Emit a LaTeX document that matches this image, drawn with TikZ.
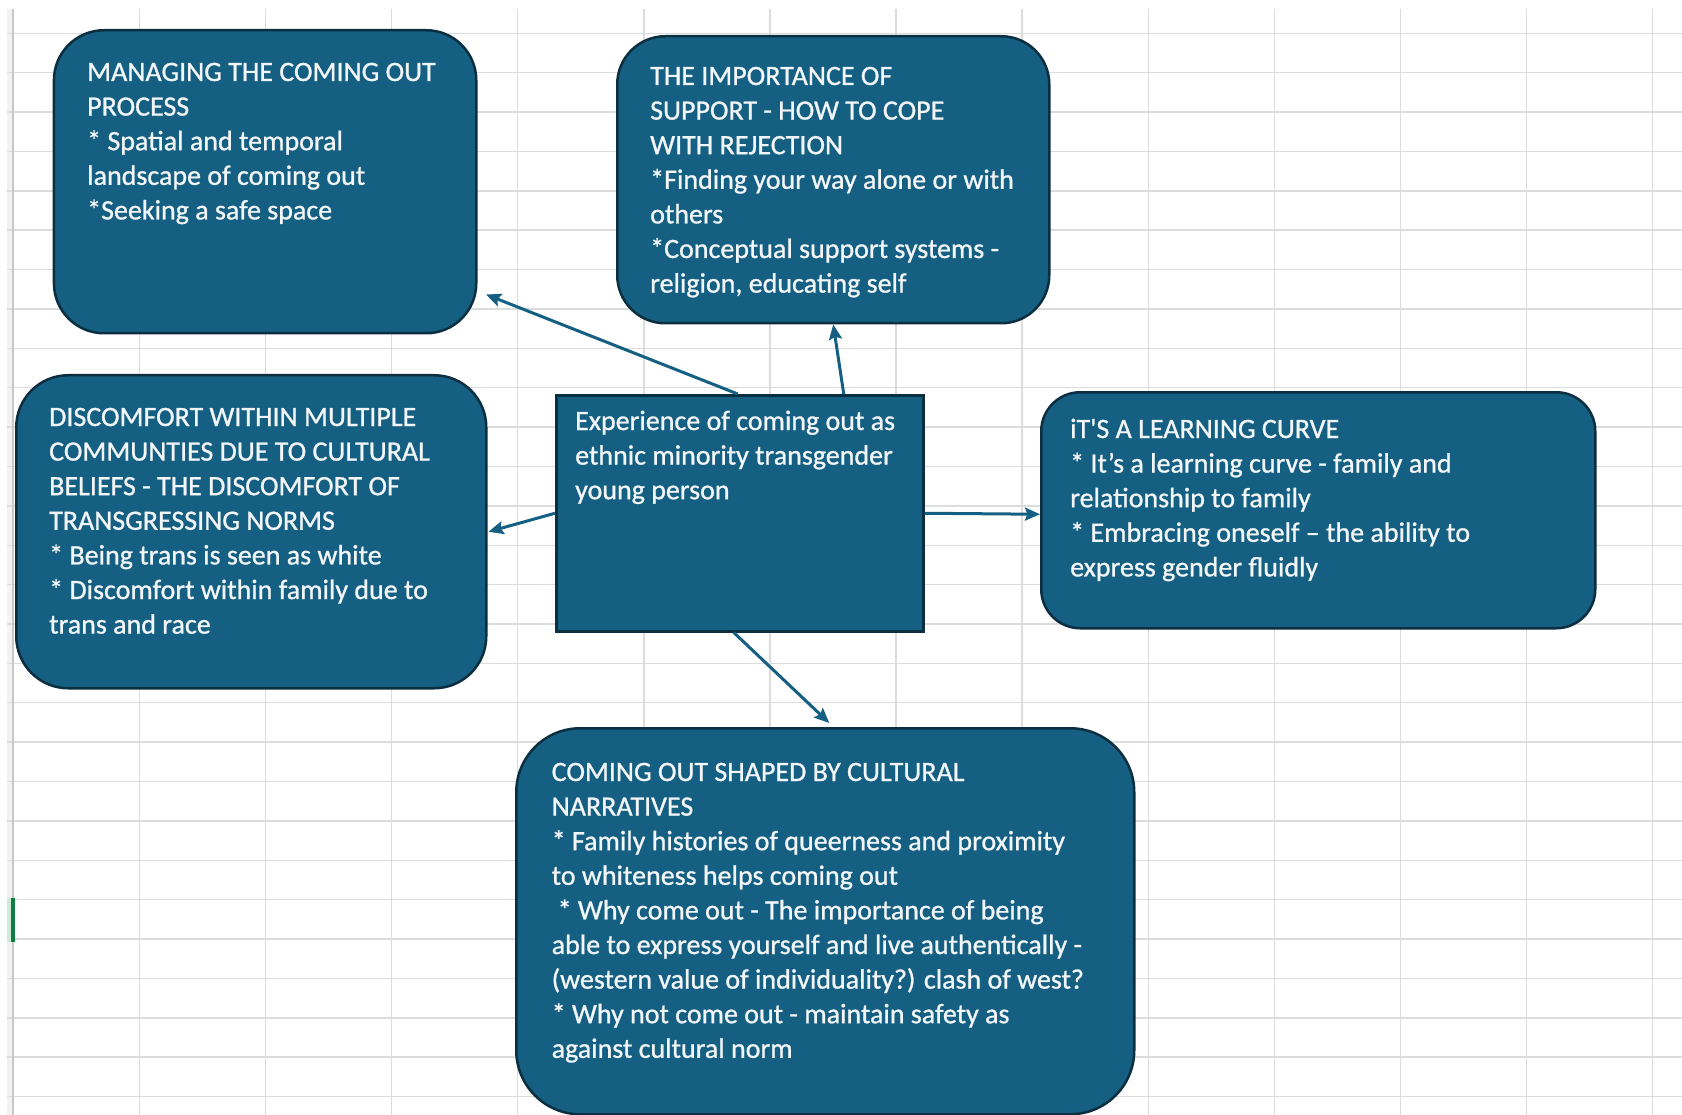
\documentclass[tikz,border=0pt]{standalone}
\usepackage{fontspec}
\setmainfont{Carlito}[FakeBold=0.9]
\usetikzlibrary{arrows.meta,calc}
\definecolor{boxfill}{HTML}{156082}
\definecolor{boxline}{HTML}{0B2E40}
\definecolor{gridc}{HTML}{DCDCDC}
\definecolor{gridd}{HTML}{C8C8C8}
\definecolor{stripc}{HTML}{F2F2F2}
\definecolor{txt}{HTML}{F2F6F8}
\definecolor{selgreen}{HTML}{107C41}
\definecolor{sellight}{HTML}{CDEBD7}
\newcommand\linesbox[1]{\begin{tabular}[t]{@{}l@{}}#1\end{tabular}}
\newcommand\bulstar{\char42\relax}
\begin{document}
\begin{tikzpicture}[x=1pt,y=-1pt,
  panel/.style={draw=boxline,line width=2.5pt,fill=boxfill,inner sep=0pt,anchor=north west},
  txtnode/.style={anchor=base west,inner sep=0pt,text=txt,font=\fontsize{28}{34.6}\selectfont},
  arr/.style={draw=boxfill,line width=3pt,-{Stealth[length=15pt,width=13pt,inset=2.5pt]}},
  gridline/.style={draw=gridc,line width=1.4pt}]
% background and canvas
\fill[white] (0,0) rectangle (1682,1115);
\useasboundingbox (0,0) rectangle (1682,1115);
\fill[stripc] (7,9) rectangle (13,1115);
% grid
\foreach \k in {0,...,27} {
  \draw[gridline] (7,{33.3+39.38*\k}) -- (1682,{33.3+39.38*\k});
}
\foreach \k in {1,...,13} {
  \draw[gridline] ({13.3+126.1*\k},9) -- ({13.3+126.1*\k},1115);
}
\draw[draw=gridd,line width=2pt] (13.3,9) -- (13.3,1115);
% selection marker
\fill[sellight] (7,898) rectangle (11.5,942);
\fill[selgreen] (11.3,897.7) rectangle (14.8,942.3);
% boxes
\node[panel,rounded corners=50pt,minimum width=422.3pt,minimum height=303pt] (b1) at (52.7,29) {};
\node[panel,rounded corners=48pt,minimum width=432pt,minimum height=287pt] (b2) at (616,35) {};
\node[panel,rounded corners=52pt,minimum width=470pt,minimum height=313pt] (b3) at (15,374) {};
\node[panel,minimum width=367pt,minimum height=236pt] (ctr) at (555,394) {};
\node[panel,rounded corners=39pt,minimum width=554pt,minimum height=236pt] (b5) at (1040,391) {};
\node[panel,rounded corners=64pt,minimum width=618pt,minimum height=386pt] (b6) at (515,727) {};
% connectors
\draw[arr] ($(ctr.north)+(-2,0)$) -- ($(b1.south east)+(8.5,-40)$);
\draw[arr] ($(ctr.north)+(104,0)$) -- (b2.south);
\draw[arr] (ctr.west) -- ($(b3.east)+(1,0)$);
\draw[arr] (ctr.east) -- ($(b5.west)+(0,4)$);
\draw[arr] ($(ctr.south)+(-6,0)$) -- ($(b6.north)+(4,-4)$);
% texts
\node[txtnode] (t1) at (87,81) {\linesbox{MANAGING THE COMING OUT\\PROCESS\\{}\bulstar{} Spatial and temporal\\landscape of coming out\\{}\bulstar Seeking a safe space}};
\node[txtnode] (t2) at (650,85) {\linesbox{THE IMPORTANCE OF\\SUPPORT - HOW TO COPE\\WITH REJECTION\\{}\bulstar Finding your way alone or with\\others\\{}\bulstar Conceptual support systems -\\religion, educating self}};
\node[txtnode] (t3) at (49,426) {\linesbox{DISCOMFORT WITHIN MULTIPLE\\COMMUNTIES DUE TO CULTURAL\\BELIEFS - THE DISCOMFORT OF\\TRANSGRESSING NORMS\\{}\bulstar{} Being trans is seen as white\\{}\bulstar{} Discomfort within family due to\\trans and race}};
\node[txtnode] (tc) at (575,430) {\linesbox{Experience of coming out as\\ethnic minority transgender\\young person}};
\node[txtnode] (t5) at (1070,438) {\linesbox{iT\textquotesingle S A LEARNING CURVE\\{}\bulstar{} It’s a learning curve - family and\\relationship to family\\{}\bulstar{} Embracing oneself – the ability to\\express gender fluidly}};
\node[txtnode] (t6) at (551.5,781) {\linesbox{COMING OUT SHAPED BY CULTURAL\\NARRATIVES\\{}\bulstar{} Family histories of queerness and proximity\\to whiteness helps coming out\\\hspace{6pt}\bulstar{} Why come out - The importance of being\\able to express yourself and live authentically -\\(western value of individuality?) clash of west?\\{}\bulstar{} Why not come out - maintain safety as\\against cultural norm}};
\end{tikzpicture}
\end{document}
